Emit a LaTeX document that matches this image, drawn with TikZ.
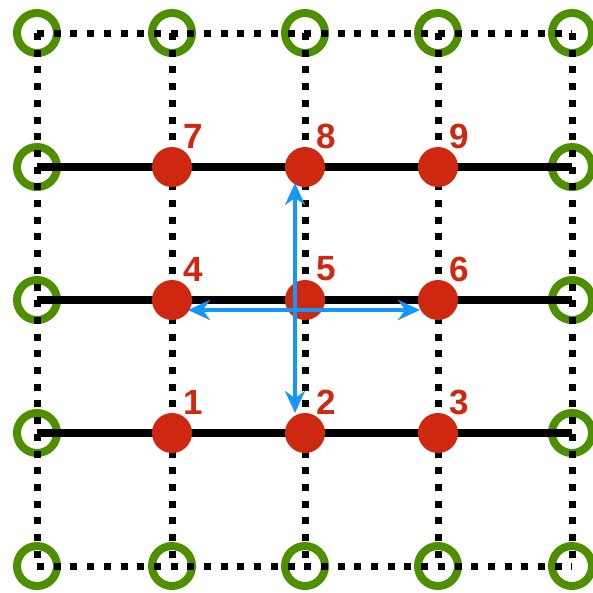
\documentclass[tikz,border=0pt]{standalone}
\usepackage{fontspec}
\setmainfont{Liberation Sans}
\usetikzlibrary{arrows.meta}
\definecolor{dotred}{RGB}{206,40,16}
\definecolor{ringgreen}{RGB}{78,143,0}
\definecolor{arrowblue}{RGB}{20,150,250}
\tikzset{
  ring/.style={circle,draw=ringgreen,line width=8pt,minimum size=40pt,inner sep=0pt},
  reddot/.style={circle,fill=dotred,minimum size=40pt,inner sep=0pt},
  dotline/.style={line width=7pt,dash pattern=on 7pt off 9.7pt},
  solidline/.style={line width=8.5pt},
  numlabel/.style={text=dotred,font=\bfseries\fontsize{35}{35}\selectfont,inner sep=0pt},
  bluearrow/.style={draw=arrowblue,line width=3.8pt,{Stealth[length=22pt,width=20pt]}-{Stealth[length=22pt,width=20pt]}}
}
\begin{document}
\begin{tikzpicture}[x=1pt,y=-1pt]
\useasboundingbox (0,0) rectangle (593,592);
% coordinates of grid
\foreach \i/\x in {1/37,2/172,3/305,4/438,5/572}{
  \foreach \j/\y in {1/33,2/167,3/300,4/433,5/566}{
    \coordinate (p-\i-\j) at (\x,\y);
  }
}
% green rings on border
\foreach \i in {1,...,5}{
  \node[ring] (g-\i-1) at (p-\i-1) {};
  \node[ring] (g-\i-5) at (p-\i-5) {};
}
\foreach \j in {2,3,4}{
  \node[ring] (g-1-\j) at (p-1-\j) {};
  \node[ring] (g-5-\j) at (p-5-\j) {};
}
% dotted lines
\foreach \i in {1,...,5}{
  \draw[dotline] (p-\i-1) -- (p-\i-5);
}
\draw[dotline] (p-1-1) -- (p-5-1);
\draw[dotline] (p-1-5) -- (p-5-5);
% solid lines
\foreach \j in {2,3,4}{
  \draw[solidline] (p-1-\j) -- (p-5-\j);
}
% red dots and labels
\node[reddot] (n7) at (p-2-2) {};
\node[reddot] (n8) at (p-3-2) {};
\node[reddot] (n9) at (p-4-2) {};
\node[reddot] (n4) at (p-2-3) {};
\node[reddot] (n5) at (p-3-3) {};
\node[reddot] (n6) at (p-4-3) {};
\node[reddot] (n1) at (p-2-4) {};
\node[reddot] (n2) at (p-3-4) {};
\node[reddot] (n3) at (p-4-4) {};
\foreach \k in {1,...,9}{
  \node[numlabel] (l\k) at ([shift={(21,-31)}]n\k.center) {\k};
}
% blue arrows
\coordinate (vt) at (295,183);
\coordinate (vb) at (295,413);
\coordinate (hl) at (188,310);
\coordinate (hr) at (420,310);
\draw[bluearrow] (vt) -- (vb);
\draw[bluearrow] (hl) -- (hr);
\end{tikzpicture}
\end{document}
